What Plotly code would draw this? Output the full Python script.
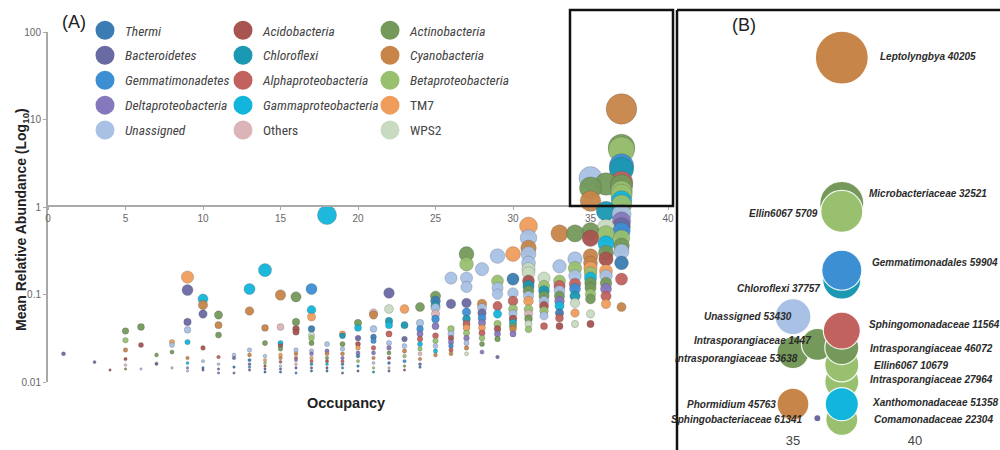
import math
import plotly.graph_objects as go

# ---------------- categories (legend, 3 columns) ----------------
codes = ["TH", "BA", "GE", "DE", "UN",
         "AC", "CH", "AL", "GA", "OT",
         "AN", "CY", "BE", "TM", "WP"]
labels = ["<i>Thermi</i>", "<i>Bacteroidetes</i>", "<i>Gemmatimonadetes</i>", "<i>Deltaproteobacteria</i>", "<i>Unassigned</i>",
          "<i>Acidobacteria</i>", "<i>Chloroflexi</i>", "<i>Alphaproteobacteria</i>", "<i>Gammaproteobacteria</i>", "Others",
          "<i>Actinobacteria</i>", "<i>Cyanobacteria</i>", "<i>Betaproteobacteria</i>", "TM7", "WPS2"]
colors = ["#3b7db3", "#6a6aa3", "#3d8fd4", "#8678bc", "#a8c1e4",
          "#a85450", "#1b98b2", "#c2625e", "#12b5dc", "#dbb4b8",
          "#74995a", "#c88549", "#98c06f", "#f09d5c", "#c8dbc0"]

# ---------------- Panel A data: occupancy, mean relative abundance, phylum ----------------
occupancy = [
    1,
    3,
    4,
    5, 5, 5, 5, 5, 5,
    6, 6, 6,
    7, 7, 7,
    8, 8, 8, 8,
    9, 9, 9, 9, 9, 9, 9, 9, 9,
    10, 10, 10, 10, 10, 10, 10,
    11, 11, 11, 11, 11, 11, 11,
    12, 12, 12, 12,
    13, 13, 13, 13, 13, 13, 13, 13,
    14, 14, 14, 14, 14, 14, 14, 14, 14,
    15, 15, 15, 15, 15, 15, 15, 15, 15, 15, 15,
    16, 16, 16, 16, 16, 16, 16, 16, 16, 16, 16,
    17, 17, 17, 17, 17, 17, 17, 17, 17, 17, 17, 17, 17, 17,
    18, 18, 18, 18, 18, 18, 18, 18, 18,
    19, 19, 19, 19, 19, 19, 19, 19, 19, 19,
    20, 20, 20, 20, 20, 20, 20, 20, 20, 20,
    21, 21, 21, 21, 21, 21, 21, 21, 21, 21, 21,
    22, 22, 22, 22, 22, 22, 22, 22, 22, 22, 22, 22,
    23, 23, 23, 23, 23, 23, 23, 23, 23,
    24, 24, 24, 24, 24, 24, 24, 24, 24, 24, 24,
    25, 25, 25, 25, 25, 25, 25, 25, 25, 25, 25, 25,
    26, 26, 26, 26, 26, 26, 26, 26, 26,
    27, 27, 27, 27, 27, 27, 27, 27, 27, 27, 27, 27, 27, 27,
    28, 28, 28, 28, 28, 28, 28, 28, 28, 28, 28,
    29, 29, 29, 29, 29, 29, 29, 29, 29, 29, 29,
    30, 30, 30, 30, 30, 30, 30, 30, 30, 30, 30,
    31, 31, 31, 31, 31, 31, 31, 31, 31, 31, 31, 31, 31, 31, 31, 31, 31,
    32, 32, 32, 32, 32, 32, 32, 32, 32,
    33, 33, 33, 33, 33, 33, 33, 33, 33, 33, 33,
    34, 34, 34, 34, 34, 34, 34, 34, 34, 34,
    35, 35, 35, 35, 35, 35, 35, 35, 35, 35, 35, 35, 35, 35, 35, 35,
    36, 36, 36, 36, 36, 36, 36, 36, 36, 36, 36, 36, 36,
    37, 37, 37, 37, 37, 37, 37, 37, 37, 37, 37, 37, 37, 37, 37, 37, 37, 37, 37, 37, 37,
]
abundance = [
    0.021,
    0.0169,
    0.0137,
    0.0383, 0.030, 0.0232, 0.0183, 0.0156, 0.0141,
    0.0425, 0.0265, 0.0141,
    0.0204, 0.0164, 0.016,
    0.0286, 0.0265, 0.022, 0.0145,
    0.158, 0.1125, 0.0485, 0.0394, 0.0286, 0.0188, 0.0165, 0.0145, 0.0134,
    0.0889, 0.0759, 0.0598, 0.0245, 0.0173, 0.0145, 0.0137,
    0.0583, 0.0446, 0.0344, 0.0193, 0.016, 0.0141, 0.0127,
    0.0204, 0.0188, 0.0148, 0.0127,
    0.1156, 0.0648, 0.0232, 0.0204, 0.0178, 0.016, 0.0148, 0.0137,
    0.19, 0.0415, 0.0279, 0.0198, 0.0178, 0.0165, 0.0152, 0.0141, 0.013,
    0.0987, 0.0425, 0.0279, 0.0258, 0.0239, 0.0204, 0.0188, 0.017, 0.0152, 0.0141, 0.013,
    0.0942, 0.0485, 0.0404, 0.0373, 0.0232, 0.021, 0.0188, 0.0178, 0.016, 0.0145, 0.0127,
    0.1156, 0.0665, 0.0553, 0.0404, 0.0344, 0.0318, 0.0279, 0.0226, 0.021, 0.0188, 0.0173, 0.016, 0.0145, 0.0134,
    0.81, 0.0272, 0.0226, 0.021, 0.0188, 0.0173, 0.016, 0.0145, 0.0134,
    0.0354, 0.0337, 0.0272, 0.0239, 0.021, 0.0188, 0.0173, 0.016, 0.0145, 0.0127,
    0.0472, 0.0415, 0.0318, 0.0272, 0.0245, 0.0215, 0.0198, 0.0173, 0.0152, 0.0134,
    0.0615, 0.0583, 0.0404, 0.0327, 0.0295, 0.0245, 0.0215, 0.0188, 0.0165, 0.0145, 0.013,
    0.104, 0.0683, 0.0497, 0.0446, 0.0354, 0.0279, 0.0245, 0.0215, 0.0188, 0.0165, 0.0145, 0.0134,
    0.0683, 0.0446, 0.031, 0.0258, 0.0226, 0.0198, 0.0173, 0.0152, 0.0137,
    0.0719, 0.0472, 0.0404, 0.0354, 0.031, 0.0272, 0.0239, 0.021, 0.0183, 0.016, 0.0148,
    0.096, 0.0843, 0.074, 0.0702, 0.0598, 0.0526, 0.0435, 0.0337, 0.0295, 0.0258, 0.0226, 0.0204,
    0.154, 0.078, 0.0404, 0.0354, 0.0318, 0.0286, 0.0258, 0.0232, 0.021,
    0.29, 0.223, 0.154, 0.122, 0.08, 0.063, 0.0526, 0.046, 0.0415, 0.0362, 0.0318, 0.0279, 0.0245, 0.021,
    0.195, 0.078, 0.0702, 0.0615, 0.054, 0.0472, 0.0415, 0.0362, 0.0318, 0.0272, 0.022,
    0.275, 0.143, 0.119, 0.101, 0.074, 0.0598, 0.046, 0.0404, 0.0354, 0.031, 0.0193,
    0.29, 0.15, 0.104, 0.0843, 0.0683, 0.0598, 0.0526, 0.0472, 0.0435, 0.0404, 0.0354,
    0.607, 0.443, 0.34, 0.29, 0.229, 0.195, 0.176, 0.143, 0.125, 0.11, 0.096, 0.084, 0.068, 0.06, 0.053, 0.046, 0.04,
    0.154, 0.125, 0.11, 0.096, 0.084, 0.074, 0.065, 0.057, 0.0435,
    0.5, 0.21, 0.143, 0.125, 0.11, 0.096, 0.084, 0.074, 0.0615, 0.054, 0.0435,
    0.5, 0.255, 0.2, 0.163, 0.132, 0.116, 0.096, 0.08, 0.0615, 0.046,
    2.14, 1.65, 1.17, 0.53, 0.44, 0.275, 0.229, 0.2, 0.176, 0.154, 0.135, 0.119, 0.101, 0.089, 0.06, 0.046,
    1.83, 0.9, 0.575, 0.49, 0.38, 0.3, 0.255, 0.186, 0.163, 0.135, 0.116, 0.096, 0.078,
    13.2, 4.8, 4.5, 2.95, 2.7, 1.9, 1.75, 1.5, 1.38, 1.17, 1.06, 0.83, 0.69, 0.6, 0.53, 0.44, 0.36, 0.31, 0.23, 0.15, 0.072,
]
phylum = [
    "BA",
    "BA",
    "AC",
    "AN", "BE", "CY", "AC", "OT", "AN",
    "AN", "AC", "UN",
    "AN", "BE", "BA",
    "TM", "UN", "AN", "OT",
    "TM", "BA", "BA", "UN", "GA", "CY", "GA", "DE", "UN",
    "GA", "CY", "BA", "AC", "UN", "TH", "BA",
    "AN", "CY", "AN", "AL", "UN", "BA", "DE",
    "UN", "BA", "TH", "DE",
    "GA", "CY", "UN", "CY", "TH", "BA", "GE", "BA",
    "GA", "CY", "AN", "UN", "TM", "BE", "AC", "BA", "TH",
    "CY", "OT", "GA", "AC", "AN", "TM", "CY", "AL", "UN", "BA", "TH",
    "AN", "AN", "AC", "AC", "UN", "CY", "AL", "DE", "OT", "BA", "GE",
    "GE", "GA", "TM", "TH", "WP", "BE", "AN", "UN", "DE", "TM", "AL", "CH", "BA", "TH",
    "GA", "UN", "DE", "CY", "AN", "AC", "GA", "BA", "TH",
    "TM", "CH", "AN", "UN", "CY", "DE", "AL", "TH", "GE", "BA",
    "AN", "GA", "BA", "AC", "TM", "DE", "TH", "BE", "CH", "BA",
    "OT", "CY", "UN", "TH", "GE", "AL", "DE", "CY", "UN", "BE", "CH",
    "BA", "WP", "CH", "GA", "AL", "UN", "DE", "AN", "AC", "TH", "OT", "BA",
    "TM", "CH", "BA", "UN", "CY", "BE", "GE", "AN", "AC",
    "AN", "UN", "GE", "DE", "AL", "GA", "BE", "OT", "CY", "BA", "TH",
    "AN", "TH", "CH", "UN", "OT", "GE", "DE", "AL", "BE", "UN", "GA", "CY",
    "UN", "BA", "BE", "UN", "AC", "DE", "GE", "AL", "CY",
    "AN", "BE", "UN", "UN", "BA", "GE", "CH", "AL", "TM", "BE", "DE", "UN", "CY", "WP",
    "UN", "CY", "UN", "BA", "GE", "DE", "TM", "AL", "BE", "AN", "DE",
    "UN", "BE", "UN", "UN", "AL", "GA", "BE", "AC", "DE", "AN", "BA",
    "TM", "TH", "UN", "AL", "BE", "UN", "AC", "GA", "AN", "CY", "DE",
    "TM", "UN", "CY", "UN", "UN", "WP", "WP", "AC", "CH", "AN", "UN", "TM", "BE", "OT", "AN", "WP", "BE",
    "WP", "BE", "CH", "AN", "UN", "AC", "BE", "UN", "AL",
    "CY", "UN", "BE", "AL", "UN", "AN", "DE", "GA", "TH", "AL", "AC",
    "AN", "UN", "BE", "UN", "AL", "GE", "CH", "WP", "TM", "WP",
    "UN", "AN", "CY", "AN", "AC", "CY", "CY", "TM", "BE", "GA", "AN", "AN", "BE", "AN", "WP", "AC",
    "AN", "CH", "WP", "BE", "GA", "AN", "AC", "TM", "UN", "AN", "DE", "AL", "TM",
    "CY", "AN", "BE", "GE", "CH", "AL", "AN", "BE", "BE", "GA", "BE", "UN", "DE", "BA", "GE", "BE", "AN", "UN", "TH", "AL", "CY",
]

# ---------------- Panel B data (zoom of the boxed region) ----------------
b_taxon = ["Microbacteriaceae 32521", "Ellin6067 5709", "Chloroflexi 37757", "Gemmatimonadales 59904",
           "Intrasporangiaceae 53638", "Intrasporangiaceae 1447", "Unassigned 53430", "Comamonadaceae 22304",
           "Intrasporangiaceae 27964", "Ellin6067 10679", "Intrasporangiaceae 46072", "Sphingomonadaceae 11564",
           "Xanthomonadaceae 51358", "Phormidium 45763", "Sphingobacteriaceae 61341", "Leptolyngbya 40205"]
b_phylum = ["AN", "BE", "CH", "GE", "AN", "AN", "UN", "BE", "BE", "BE", "AN", "AL", "GA", "CY", "BA", "CY"]
b_occupancy = [37, 37, 37, 37, 35, 36, 35, 37, 37, 37, 37, 37, 37, 35, 36, 37]
b_abundance = [4.78, 4.52, 2.80, 3.00, 1.69, 1.79, 2.17, 1.06, 1.38, 1.55, 1.75, 1.97, 1.18, 1.18, 1.07, 13.2]
b_weight = [9.9, 9.0, 7.4, 8.2, 5.2, 5.2, 6.6, 5.2, 5.9, 5.9, 5.9, 7.0, 5.6, 5.2, 0.25, 14.3]

# label placement for panel B (side, x shift px, y shift px) - style only
b_label_side = ["right", "left", "left", "right", "left", "left", "left", "right",
                "right", "right", "right", "right", "right", "left", "left", "right"]
b_label_dx = [25, -22, -20, 28, 7, -4, 1, 30, 26, 30, 26, 25, 28, -15, -12, 36]
b_label_dy = [10, -2, -8, 8, -6, 4, 0, 0, 2, -1, -1, 6, 2, 0, -1, 1]

FONT = "Arial, Liberation Sans, sans-serif"
NARROW = "Liberation Sans Narrow, Arial Narrow, Roboto Condensed, Arial, sans-serif"
col = dict(zip(codes, colors))

fig = go.Figure()

# Panel A bubbles: draw larger values first so smaller sit on top
order = sorted(range(len(abundance)), key=lambda i: -abundance[i])
ax = [occupancy[i] for i in order]
ay = [abundance[i] for i in order]
ac = [col[phylum[i]] for i in order]
asz = [max(2.5, 9.5 * (math.log10(v) + 2) + 1) for v in ay]
fig.add_trace(go.Scatter(
    x=ax, y=ay, mode="markers", xaxis="x", yaxis="y",
    marker=dict(size=asz, color=ac, opacity=0.95,
                line=dict(width=0.7, color="rgba(70,70,70,0.35)")),
    showlegend=False, hoverinfo="skip", cliponaxis=False))

# Legend entries (3 vertical legends = 3 columns)
for k, (c, lab, clr) in enumerate(zip(codes, labels, colors)):
    leg = ["legend", "legend2", "legend3"][k // 5]
    fig.add_trace(go.Scatter(
        x=[None], y=[None], mode="markers", xaxis="x", yaxis="y",
        marker=dict(size=16, color=clr, line=dict(width=3, color=clr)),
        name=lab, legend=leg, legendgroup=c, showlegend=True))

# Panel B bubbles
bsz = [14 * math.sqrt(w) for w in b_weight]
fig.add_trace(go.Scatter(
    x=b_occupancy, y=b_abundance, mode="markers", xaxis="x2", yaxis="y2",
    marker=dict(size=bsz, color=[col[p] for p in b_phylum], opacity=1,
                line=dict(width=1.2, color="rgba(255,255,255,0.9)")),
    showlegend=False, hoverinfo="skip", cliponaxis=False))

annotations = []
for t, xo, yo, side, dx, dy in zip(b_taxon, b_occupancy, b_abundance, b_label_side, b_label_dx, b_label_dy):
    annotations.append(dict(
        x=xo, y=math.log10(yo), xref="x2", yref="y2", text="<b><i>%s</i></b>" % t,
        showarrow=False, xanchor="left" if side == "right" else "right", xshift=dx, yshift=dy,
        font=dict(family=FONT, size=10, color="#2b2b2b")))

annotations += [
    dict(x=0.074, y=(450 - 22) / 450, xref="paper", yref="paper", text="(A)", showarrow=False,
         xanchor="center", yanchor="middle", font=dict(family=FONT, size=18, color="#222")),
    dict(x=0.744, y=(450 - 25) / 450, xref="paper", yref="paper", text="(B)", showarrow=False,
         xanchor="center", yanchor="middle", font=dict(family=FONT, size=18, color="#222")),
    dict(x=0.022, y=(450 - 220) / 450, xref="paper", yref="paper", textangle=-90,
         xanchor="center", yanchor="middle",
         text="<b>Mean Relative Abundance (Log<sub>10</sub>)</b>", showarrow=False,
         font=dict(family=FONT, size=14, color="#222")),
    dict(x=0.346, y=(450 - 403) / 450, xref="paper", yref="paper", text="<b>Occupancy</b>",
         xanchor="center", yanchor="middle",
         showarrow=False, font=dict(family=FONT, size=14.5, color="#222")),
]

shapes = [
    dict(type="rect", xref="paper", yref="paper", x0=0.570, x1=0.673, y0=244 / 450, y1=440 / 450,
         line=dict(color="#111", width=2.5)),
    dict(type="line", xref="paper", yref="paper", x0=0.677, x1=0.677, y0=0, y1=440 / 450,
         line=dict(color="#111", width=2.5)),
    dict(type="line", xref="paper", yref="paper", x0=0.677, x1=1.0, y0=440 / 450, y1=440 / 450,
         line=dict(color="#111", width=2.5)),
]

leg_common = dict(orientation="v", bgcolor="rgba(0,0,0,0)", borderwidth=0,
                  font=dict(family=NARROW, size=13.5, color="#444"),
                  tracegroupgap=4.4, itemsizing="trace", yanchor="top", xanchor="left",
                  y=(450 - 15) / 450, itemclick=False, itemdoubleclick=False)

fig.update_layout(
    width=1000, height=450,
    margin=dict(l=0, r=0, t=0, b=0, autoexpand=False),
    paper_bgcolor="white", plot_bgcolor="white",
    font=dict(family=FONT, color="#444"),
    xaxis=dict(domain=[0.048, 0.668], range=[0, 40], anchor="free", position=244 / 450,
               showline=True, linecolor="#a9a9a9", linewidth=2, ticks="outside", ticklen=3,
               tickcolor="#a9a9a9", tickvals=[0, 5, 10, 15, 20, 25, 30, 35, 40],
               tickfont=dict(family=FONT, size=10, color="#666"), showgrid=False, zeroline=False),
    yaxis=dict(type="log", domain=[68 / 450, 418 / 450], range=[-2, 2], anchor="x",
               showline=True, linecolor="#a9a9a9", linewidth=2, ticks="outside", ticklen=3,
               tickcolor="#a9a9a9", tickvals=[0.01, 0.1, 1, 10, 100],
               ticktext=["0.01", "0.1", "1", "10", "100"],
               tickfont=dict(family=FONT, size=10, color="#666"), showgrid=False, zeroline=False),
    xaxis2=dict(domain=[0.677, 1.0], range=[30.25, 43.48], anchor="y2", showline=False,
                showgrid=False, zeroline=False, tickvals=[35, 40], ticks="",
                tickfont=dict(family=FONT, size=13, color="#444")),
    yaxis2=dict(type="log", domain=[19 / 450, 440 / 450], range=[-0.0095, 1.2647], anchor="x2",
                visible=False),
    legend=dict(x=0.085, **leg_common),
    legend2=dict(x=0.223, **leg_common),
    legend3=dict(x=0.370, **leg_common),
    annotations=annotations,
    shapes=shapes,
)

fig.write_html("out.html")
